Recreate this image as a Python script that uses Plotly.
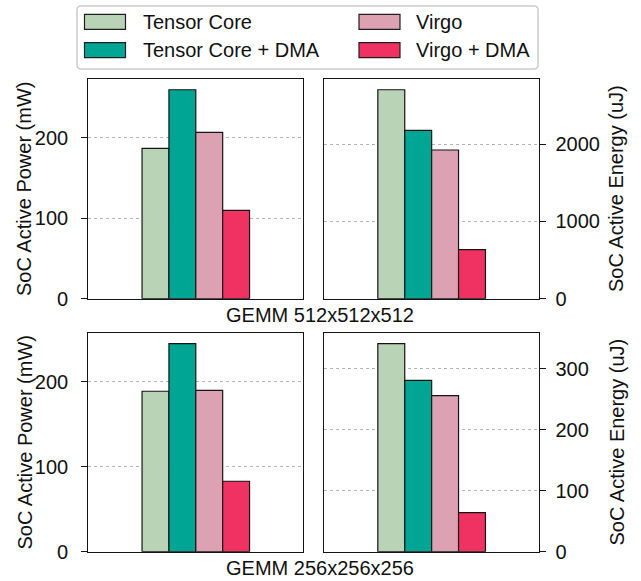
import plotly.graph_objects as go

# ---- data ----
series = ["Tensor Core", "Tensor Core + DMA", "Virgo", "Virgo + DMA"]
colors = ["#b9d3b6", "#00a593", "#dda1b4", "#f03262"]
power_512 = [187, 260, 207, 110]
energy_512 = [2705, 2180, 1925, 635]
power_256 = [189, 245, 190, 83]
energy_256 = [341, 281, 256, 64]
workloads = ["GEMM 512x512x512", "GEMM 256x256x256"]
power_title = "SoC Active Power (mW)"
energy_title = "SoC Active Energy (uJ)"

W, H = 641, 581
FONT = "Liberation Sans, Arial, Helvetica, sans-serif"
FS = 20

def px(x):
    return x / W

def py(y):
    return 1 - y / H

offsets = [-1.5, -0.5, 0.5, 1.5]

fig = go.Figure()

panels = [
    # (values, xaxis id, yaxis id, x-domain px, y-domain px, side, dtick)
    (power_512, "x", "y", (88.3, 303.3), (79.3, 298.7), "left", 100),
    (energy_512, "x2", "y2", (324.0, 539.3), (79.3, 298.7), "right", 1000),
    (power_256, "x3", "y3", (88.3, 303.3), (333.3, 551.7), "left", 100),
    (energy_256, "x4", "y4", (324.0, 539.3), (333.3, 551.7), "right", 100),
]

layout_axes = {}
for vals, xa, ya, (x0, x1), (y0, y1), side, dtick in panels:
    for i, name in enumerate(series):
        fig.add_trace(go.Bar(
            x=[offsets[i]], y=[vals[i]], width=1, name=name,
            marker=dict(color=colors[i], line=dict(color="#141414", width=1.2)),
            xaxis=xa, yaxis=ya, showlegend=False,
        ))
    xkey = "xaxis" + xa[1:]
    ykey = "yaxis" + ya[1:]
    layout_axes[xkey] = dict(
        domain=[px(x0), px(x1)], range=[-4, 4], anchor=ya, automargin=False,
        showticklabels=False, ticks="", showgrid=False, zeroline=False,
        showline=True, mirror=True, linecolor="#141414", linewidth=1.3,
    )
    layout_axes[ykey] = dict(
        domain=[py(y1), py(y0)], range=[0, max(vals) * 1.05], anchor=xa,
        automargin=False,
        side=side, dtick=dtick, tick0=0,
        ticks="outside", ticklen=6, tickwidth=1.3, tickcolor="#141414",
        ticklabelstandoff=9 if side == "left" else 5,
        showgrid=True, gridcolor="#b5b5b5", griddash="dot", gridwidth=1,
        zeroline=False, showline=True, mirror=True,
        linecolor="#141414", linewidth=1.3,
        tickfont=dict(family=FONT, size=FS, color="#111"),
    )

fig.update_layout(**layout_axes)

annotations = []
# axis titles
for yc in [(79.3 + 298.7) / 2, (333.3 + 551.7) / 2]:
    annotations.append(dict(x=px(24), y=py(yc), xref="paper", yref="paper",
                            text=power_title, textangle=-90, showarrow=False,
                            font=dict(family=FONT, size=FS, color="#111"),
                            xanchor="center", yanchor="middle"))
    annotations.append(dict(x=px(616), y=py(yc), xref="paper", yref="paper",
                            text=energy_title, textangle=-90, showarrow=False,
                            font=dict(family=FONT, size=FS, color="#111"),
                            xanchor="center", yanchor="middle"))
for wl, yc in zip(workloads, [314.5, 567.5]):
    annotations.append(dict(x=px(320), y=py(yc), xref="paper", yref="paper",
                            text=wl, showarrow=False,
                            font=dict(family=FONT, size=FS, color="#111"),
                            xanchor="center", yanchor="middle"))

# legend (manual, matplotlib-like 2 columns)
shapes = []
lx0, lx1, ly0, ly1, r = 77, 538, 6, 69, 4
path = (f"M {px(lx0 + r)},{py(ly0)} L {px(lx1 - r)},{py(ly0)} "
        f"Q {px(lx1)},{py(ly0)} {px(lx1)},{py(ly0 + r)} "
        f"L {px(lx1)},{py(ly1 - r)} Q {px(lx1)},{py(ly1)} {px(lx1 - r)},{py(ly1)} "
        f"L {px(lx0 + r)},{py(ly1)} Q {px(lx0)},{py(ly1)} {px(lx0)},{py(ly1 - r)} "
        f"L {px(lx0)},{py(ly0 + r)} Q {px(lx0)},{py(ly0)} {px(lx0 + r)},{py(ly0)} Z")
shapes.append(dict(type="path", path=path, xref="paper", yref="paper",
                   line=dict(color="#cccccc", width=1.5), fillcolor="white"))
col_sw = [84.5, 359]
col_tx = [141, 414]
row_y = [21.8, 50.2]
order = [(0, 0, 0), (1, 0, 1), (2, 1, 0), (3, 1, 1)]  # (series idx, col, row)
for si, c, rr in order:
    yc = row_y[rr]
    shapes.append(dict(type="rect", xref="paper", yref="paper",
                       x0=px(col_sw[c]), x1=px(col_sw[c] + 41),
                       y0=py(yc - 7.5), y1=py(yc + 7.5),
                       fillcolor=colors[si], line=dict(color="#1e1e1e", width=1.2)))
    annotations.append(dict(x=px(col_tx[c]), y=py(yc), xref="paper", yref="paper",
                            text=series[si], showarrow=False,
                            font=dict(family=FONT, size=FS, color="#111"),
                            xanchor="left", yanchor="middle"))

fig.update_layout(
    width=W, height=H, margin=dict(l=0, r=0, t=0, b=0, autoexpand=False),
    paper_bgcolor="white", plot_bgcolor="white",
    showlegend=False, barmode="overlay",
    annotations=annotations, shapes=shapes,
    font=dict(family=FONT, size=FS, color="#111"),
)

fig.write_html(
    "out.html",
    config={"displayModeBar": False},
    post_script="document.body.style.margin='0';document.body.style.padding='0';",
)
